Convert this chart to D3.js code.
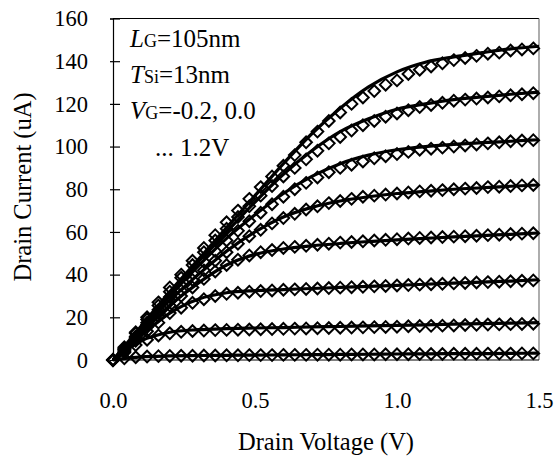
<!DOCTYPE html>
<html><head><meta charset="utf-8">
<script src="https://cdn.jsdelivr.net/npm/d3@7"></script>
<style>body{margin:0;background:#fff}svg{display:block}svg text{font-family:"Liberation Serif","Times New Roman",serif !important;fill:#000}</style>
</head><body>
<svg id="c" width="559" height="457" font-family="Liberation Serif"></svg>
<script>
const VD_MEAS = [0,0.04,0.08,0.12,0.16,0.20,0.24,0.28,0.32,0.36,0.40,0.44,0.48,0.52,0.56,0.60,0.64,0.68,0.72,0.76,0.80,0.84,0.88,0.92,0.96,1.00,1.04,1.08,1.12,1.16,1.20,1.24,1.28,1.32,1.36,1.40,1.44,1.48];
const VD_MODEL = [0,0.1,0.2,0.3,0.4,0.5,0.6,0.7,0.8,0.9,1.0,1.1,1.2,1.3,1.4,1.5];
const VG_LABELS = ["-0.2","0.0","0.2","0.4","0.6","0.8","1.0","1.2"];

const measM02 = [0,0.8,1.3,1.6,1.8,1.9,2.0,2.0,2.1,2.1,2.2,2.2,2.3,2.3,2.3,2.4,2.4,2.4,2.5,2.5,2.5,2.6,2.6,2.6,2.7,2.7,2.7,2.8,2.8,2.8,2.9,2.9,2.9,3.0,3.0,3.0,3.1,3.1];
const meas00 = [0,3.5,7,9.5,11.5,12.5,13.2,13.6,13.8,14,14.1,14.2,14.3,14.4,14.5,14.6,14.7,14.8,14.9,15,15.1,15.2,15.3,15.4,15.5,15.6,15.8,15.9,16,16.1,16.2,16.4,16.5,16.6,16.7,16.8,16.9,17];
const meas02 = [0,4,9,13.5,17.5,22,24.5,26.8,28.5,30,31,31.5,32,32.3,32.6,32.9,33.1,33.3,33.5,33.7,33.9,34.1,34.3,34.5,34.7,34.9,35.1,35.3,35.5,35.7,35.9,36.1,36.3,36.5,36.7,36.9,37.1,37.3];
const meas04 = [0,4.5,10,15.5,20.5,25.5,30,34,38,41.5,44.5,47,49,50.5,51.5,52.5,53,53.5,54,54.5,55,55.3,55.6,56,56.3,56.6,56.9,57.2,57.4,57.6,57.8,58,58.2,58.5,58.7,59,59.2,59.4];
const meas06 = [0,5,10.5,16.5,22,27.5,32.5,37.5,42,46.5,50.5,54.5,58,61,64,66.5,68.5,70.5,72,73.5,74.5,75.5,76.5,77,77.5,78,78.5,79,79.3,79.6,80,80.3,80.6,81,81.2,81.5,81.8,82];
const meas08 = [0,5,11,17.5,23.5,29.5,35,40.5,46,51,56,60.5,65,69,73,76.5,80,83,85.5,88,90,91.5,93,94.5,95.5,96.5,97.5,98.5,99,99.5,100,100.5,101,101.5,102,102.5,102.8,103];
const meas10 = [0,5.5,12.5,19,25.5,32,38.5,44.5,50.5,56,61.5,67,72,77,81.5,86,90,94,98,101.5,104.5,107.5,110,112,114,115.5,117,118.5,119.5,120.5,121.5,122,122.5,123,123.5,124,124.5,125];
const meas12 = [0,6,13,20,27,34,40,46.5,52.5,58.5,64.5,70,75.5,81,86,91,96,102,107,112,116,120,123,126,129,131,134,136,137.5,139,140.5,141.5,142.5,143.5,144,145,145.5,146];

const modelM02 = [0,1.5,1.9,2.1,2.2,2.3,2.4,2.5,2.6,2.7,2.8,2.9,3.0,3.0,3.1,3.2];
const model00 = [0,9,13,14.2,14.7,15,15.2,15.5,15.7,16,16.2,16.5,16.8,17,17.3,17.5];
const model02 = [0,11.5,22,28.5,31.5,32.5,33,33.5,34,34.5,35,35.5,36,36.5,37,37.6];
const model04 = [0,12.5,25.5,36,44.5,49.5,52,53.5,54.6,55.5,56.3,57,57.7,58.3,58.9,59.5];
const model06 = [0,13.5,28,40,51,60,67,71.5,74.5,76.5,78,79,80,80.7,81.4,82];
const model08 = [0,14.5,30,44,57,68,78,86,92,96,98.5,100,101,101.8,102.5,103.2];
const model10 = [0,15,31,46,60,74,87,98,107,113,117.5,120,122,123.3,124.5,125.5];
const model12 = [0,16,32,47,62,77,92,106,118,128,135,139.5,142,144,145.8,147];

const Y_TICKS = [0,20,40,60,80,100,120,140,160];
const X_TICKS = [0.0,0.5,1.0,1.5];

const measured = [measM02,meas00,meas02,meas04,meas06,meas08,meas10,meas12];
const models = [modelM02,model00,model02,model04,model06,model08,model10,model12];

const svg = d3.select("#c");
const L = 113, R = 539, T = 18.5, B = 360;
const x = d3.scaleLinear().domain([0,1.5]).range([L,R]);
const y = d3.scaleLinear().domain([0,160]).range([B,T]);

// frame
svg.append("line").attr("x1",L).attr("x2",R).attr("y1",T).attr("y2",T).attr("stroke","#000").attr("stroke-width",1.2);
svg.append("line").attr("x1",R).attr("x2",R).attr("y1",T).attr("y2",B).attr("stroke","#777").attr("stroke-width",1.2);
svg.append("line").attr("x1",L).attr("x2",R).attr("y1",B).attr("y2",B).attr("stroke","#000").attr("stroke-width",1.2);

// y axis
const yAx = svg.append("g").attr("transform",`translate(${L},0)`)
  .call(d3.axisLeft(y).tickValues(Y_TICKS).tickSize(3).tickPadding(22).tickFormat(d3.format("d")));
yAx.attr("font-family","Liberation Serif");
yAx.select(".domain").attr("stroke","#000").attr("stroke-width",1.2);
yAx.selectAll(".tick line").attr("x2",-3).attr("x1",7).attr("stroke","#000").attr("stroke-width",1.2);
yAx.selectAll(".tick text").attr("font-size",22.5).attr("fill","#000");

// x axis labels (no ticks)
const xAx = svg.append("g").attr("transform",`translate(0,${B})`)
  .call(d3.axisBottom(x).tickValues(X_TICKS).tickSize(0).tickPadding(32).tickFormat(d3.format(".1f")));
xAx.attr("font-family","Liberation Serif");
xAx.select(".domain").remove();
xAx.selectAll(".tick text").attr("font-size",22.5).attr("fill","#000");

// titles
svg.append("text").attr("x",326).attr("y",450).attr("text-anchor","middle").attr("font-size",24.5).text("Drain Voltage (V)");
svg.append("text").attr("transform","translate(31,187) rotate(-90)").attr("text-anchor","middle").attr("font-size",24.5).text("Drain Current (uA)");

// markers
const diamond = "M0,-5.8L5.8,0L0,5.8L-5.8,0Z";
measured.forEach((arr,k)=>{
  svg.append("g").selectAll("path").data(arr.map((v,i)=>[VD_MEAS[i],v])).join("path")
    .attr("d",diamond).attr("transform",d=>`translate(${x(d[0])},${y(d[1])})`)
    .attr("fill","none").attr("stroke","#000").attr("stroke-width",2);
});
// model lines
const line = d3.line().x(d=>x(d[0])).y(d=>y(d[1])).curve(d3.curveMonotoneX);
models.forEach(arr=>{
  svg.append("path").datum(arr.map((v,i)=>[VD_MODEL[i],v])).attr("d",line)
    .attr("fill","none").attr("stroke","#000").attr("stroke-width",3.2);
});

// annotation
const ann = svg.append("g").attr("font-size",25);
function annLine(yb, xs, main, sub, rest){
  const t = ann.append("text").attr("x",xs).attr("y",yb);
  if(main){ t.append("tspan").attr("font-style","italic").text(main);
    t.append("tspan").attr("font-size",18).text(sub); }
  t.append("tspan").text(rest);
}
annLine(46.7,130,"L","G","=105nm");
annLine(83.3,130,"T","Si","=13nm");
annLine(119.3,130,"V","G","=-0.2, 0.0");
annLine(156,155,null,null,"... 1.2V");
</script>
</body></html>
